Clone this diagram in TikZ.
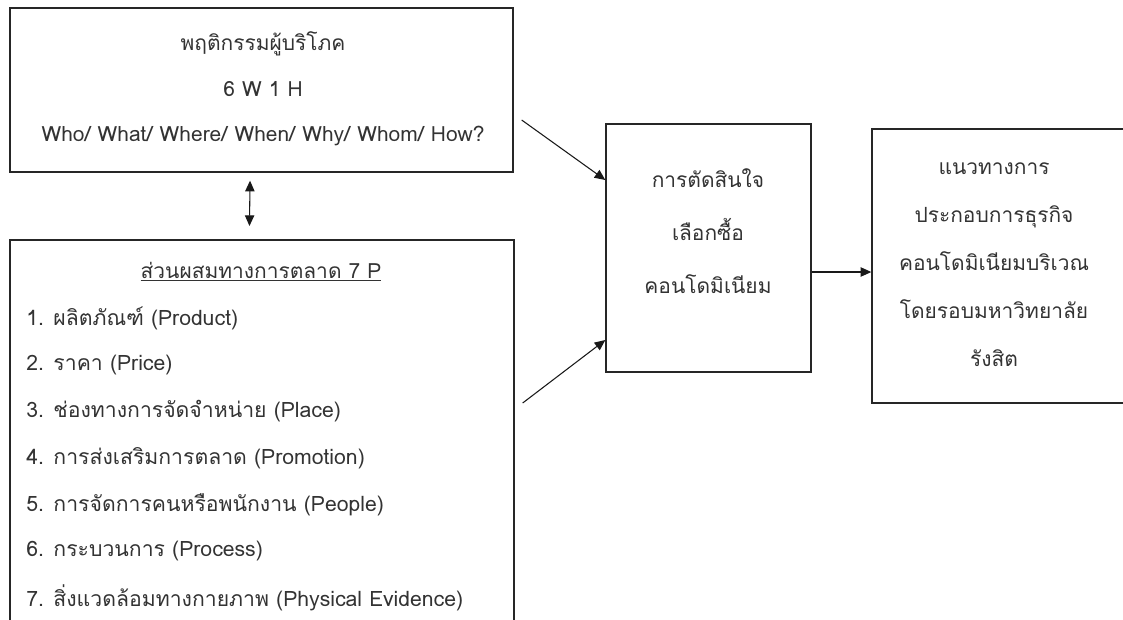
\documentclass[tikz,border=0pt]{standalone}
\usepackage{fontspec}
\setmainfont[Script=Thai]{Loma}
\usetikzlibrary{arrows.meta,positioning}
\tikzset{
  box/.style={draw=black!85, line width=1pt, rectangle, inner sep=0pt},
  txt/.style={text=black!80, font=\fontsize{15.7}{34}\selectfont, align=center},
  item/.style={text=black!80, font=\fontsize{15.9}{18}\selectfont, anchor=west, inner sep=0pt},
  arr/.style={draw=black!90, line width=0.8pt, >={Triangle[length=8pt,width=7pt]}, ->}
}
\begin{document}
\begin{tikzpicture}[x=0.75pt, y=-0.75pt]
  \useasboundingbox (0,0) rectangle (1123,619);

  % boxes
  \node[box, minimum width=503*0.75pt, minimum height=164*0.75pt] (beh) at (261.5,90) {};
  \node[box, minimum width=504*0.75pt, minimum height=420*0.75pt] (mix) at (262,450) {};
  \node[box, minimum width=205*0.75pt, minimum height=248*0.75pt] (dec) at (708.5,248) {};
  \node[box, minimum width=280*0.75pt, minimum height=274*0.75pt] (way) at (1012,266) {};

  % texts
  \node[txt] (beht) at (263,89) {พฤติกรรมผู้บริโภค\\6 W 1 H\\Who/ What/ Where/ When/ Why/ Whom/ How?};
  \node[txt, font=\fontsize{15.7}{40}\selectfont] (dect) at (708,231) {การตัดสินใจ\\เลือกซื้อ\\คอนโดมิเนียม};
  \node[txt, font=\fontsize{15.7}{36}\selectfont] (wayt) at (994,265) {แนวทางการ\\ประกอบการธุรกิจ\\คอนโดมิเนียมบริเวณ\\โดยรอบมหาวิทยาลัย\\รังสิต};
  \node[txt] (mixt) at (261,272) {\underline{ส่วนผสมทางการตลาด 7 P}};
  \foreach \n/\t [count=\i] in {
      1/ผลิตภัณฑ์ (Product),
      2/ราคา (Price),
      3/ช่องทางการจัดจำหน่าย (Place),
      4/การส่งเสริมการตลาด (Promotion),
      5/การจัดการคนหรือพนักงาน (People),
      6/กระบวนการ (Process),
      7/สิ่งแวดล้อมทางกายภาพ (Physical Evidence)}
    \node[item] (p\n) at (26,272+46.5*\i) {\n. \t};

  % connectors
  \draw[arr, <->]
    ([xshift=-8.6pt, yshift=-6pt]beh.south) -- ([xshift=-9.4pt, yshift=10pt]mix.north);
  \draw[arr] ([xshift=6pt, yshift=-22.5pt]beh.east) -- ([yshift=51pt]dec.west);
  \draw[arr] ([xshift=6pt, yshift=35.25pt]mix.east) -- ([yshift=-69pt]dec.west);
  \draw[arr] (dec.east |- 0,272) -- (way.west |- 0,272);
\end{tikzpicture}
\end{document}
